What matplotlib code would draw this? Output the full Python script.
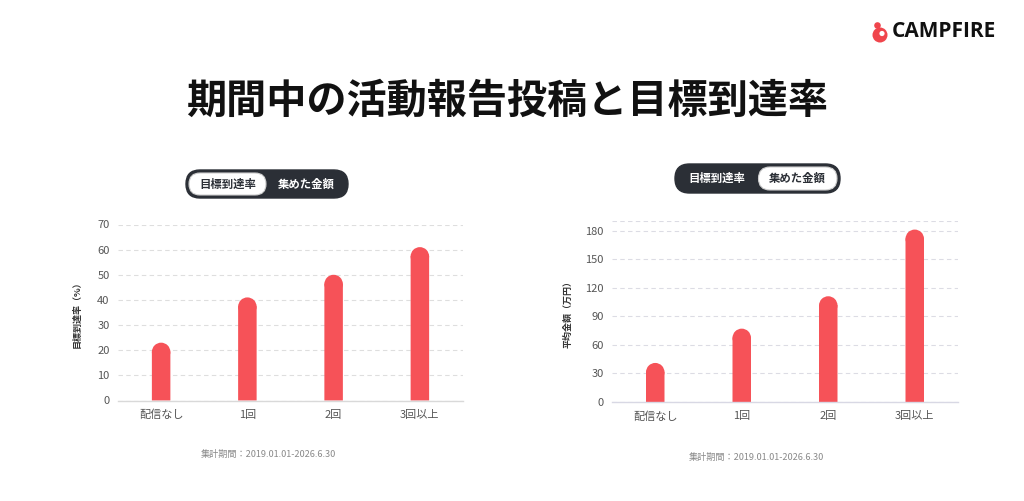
import matplotlib
matplotlib.use('Agg')
import matplotlib.pyplot as plt
from matplotlib.patches import FancyBboxPatch, Ellipse, Circle

plt.rcParams['font.family'] = ['Noto Sans CJK JP', 'DejaVu Sans']

categories = ['配信なし', '1回', '2回', '3回以上']
rate_values = [23, 41, 50, 61]
amount_values = [41, 77, 111, 181]
rate_ticks = [0, 10, 20, 30, 40, 50, 60, 70]
amount_ticks = [0, 30, 60, 90, 120, 150, 180]

title = '期間中の活動報告投稿と目標到達率'
toggle_labels = ['目標到達率', '集めた金額']
period_note = '集計期間：2019.01.01-2026.6.30'

W, H = 1024, 501
RED = '#f65258'
DARK = '#2b2f36'

fig = plt.figure(figsize=(W / 100, H / 100), dpi=100)

# full-figure layer in pixel units for the decorations
bg = fig.add_axes([0, 0, 1, 1])
bg.set_xlim(0, W)
bg.set_ylim(H, 0)
bg.axis('off')


def px_axes(l, t, r, b):
    return fig.add_axes([l / W, 1 - b / H, (r - l) / W, (b - t) / H])


def rounded_bars(ax, values, width_px=18.5):
    pos = ax.get_position()
    x0, x1 = ax.get_xlim()
    y0, y1 = ax.get_ylim()
    w = width_px * (x1 - x0) / (pos.width * W)
    r = (width_px / 2) * (y1 - y0) / (pos.height * H)
    xs = range(len(values))
    ax.bar(xs, [v - r * 0.95 for v in values], width=w, color=RED, zorder=3,
           lw=0, snap=False)
    for xi, v in zip(xs, values):
        ax.add_patch(Ellipse((xi, v - r), w, 2 * r, fc=RED, ec='none',
                             zorder=3, lw=0))


def style(ax, ticks, top, grid_color, base_color):
    ax.set_xlim(-0.5, 3.5)
    ax.set_ylim(0, top)
    ax.set_yticks(ticks)
    ax.set_xticks(range(len(categories)))
    ax.set_xticklabels(categories)
    for s in ['top', 'right', 'left']:
        ax.spines[s].set_visible(False)
    ax.spines['bottom'].set_color(base_color)
    ax.spines['bottom'].set_linewidth(1)
    ax.spines['bottom'].set_zorder(4)
    ax.tick_params(length=0, labelsize=8, labelcolor='#555555')
    ax.tick_params(axis='y', pad=6)
    ax.tick_params(axis='x', pad=6.5)
    ax.grid(axis='y', color=grid_color, linestyle=(0, (4, 3)), linewidth=0.8)
    ax.set_axisbelow(True)


# left chart: goal achievement rate
ax1 = px_axes(118, 224.5, 463, 400.5)
style(ax1, rate_ticks, 70, '#dedede', '#d9d9d9')
rounded_bars(ax1, rate_values)
ax1.set_ylabel('目標到達率（%）', fontsize=6.5, color='#333333', fontweight='bold')
ax1.yaxis.set_label_coords(-0.105, 0.5)

# right chart: average amount
ax2 = px_axes(612, 221, 958, 402)
style(ax2, amount_ticks, 190, '#dcdce4', '#d8d8e4')
ax2.axhline(190, color='#dcdce4', linestyle=(0, (4, 3)), linewidth=0.8, zorder=0)
rounded_bars(ax2, amount_values)
ax2.set_ylabel('平均金額（万円）', fontsize=6.5, color='#333333', fontweight='bold')
ax2.yaxis.set_label_coords(-0.113, 0.5)

# title
bg.text(507, 101, title, ha='center', va='center', fontsize=28.9,
        fontweight='bold', color='#111111')

# logo
bg.add_patch(Circle((880, 35), 7.5, color='#f0454c', lw=0))
bg.add_patch(Circle((877.5, 25.5), 3.3, color='#f0454c', lw=0))
bg.add_patch(Circle((882, 33.5), 2.6, color='white', lw=0))
bg.text(892, 31.5, 'CAMPFIRE', ha='left', va='center', fontsize=15,
        fontweight='bold', color='#111111', family=['Open Sans', 'DejaVu Sans'])


def toggle(x, y, w, h, active):
    bg.add_patch(FancyBboxPatch((x, y), w, h, boxstyle='round,pad=0,rounding_size=%g' % (h / 2),
                                fc=DARK, ec=DARK, lw=1))
    half = w / 2
    ix = x + 3 if active == 0 else x + half + 1
    bg.add_patch(FancyBboxPatch((ix, y + 3), half - 4, h - 6,
                                boxstyle='round,pad=0,rounding_size=%g' % ((h - 6) / 2),
                                fc='white', ec='#cfcfcf', lw=0.8))
    for i, lab in enumerate(toggle_labels):
        cx = x + 3 + (half - 4) / 2 if i == 0 else x + half + 1 + (half - 4) / 2
        bg.text(cx, y + h / 2, lab, ha='center', va='center', fontsize=8.2,
                fontweight='bold', color=DARK if i == active else 'white')


toggle(186, 170, 162, 28, 0)
toggle(675, 164, 165, 29, 1)

# footnotes
bg.text(268, 454, period_note, ha='center', va='center', fontsize=6.6, color='#8a8a8a')
bg.text(756, 457, period_note, ha='center', va='center', fontsize=6.6, color='#8a8a8a')

fig.savefig('out.png', dpi=100, facecolor='white')
